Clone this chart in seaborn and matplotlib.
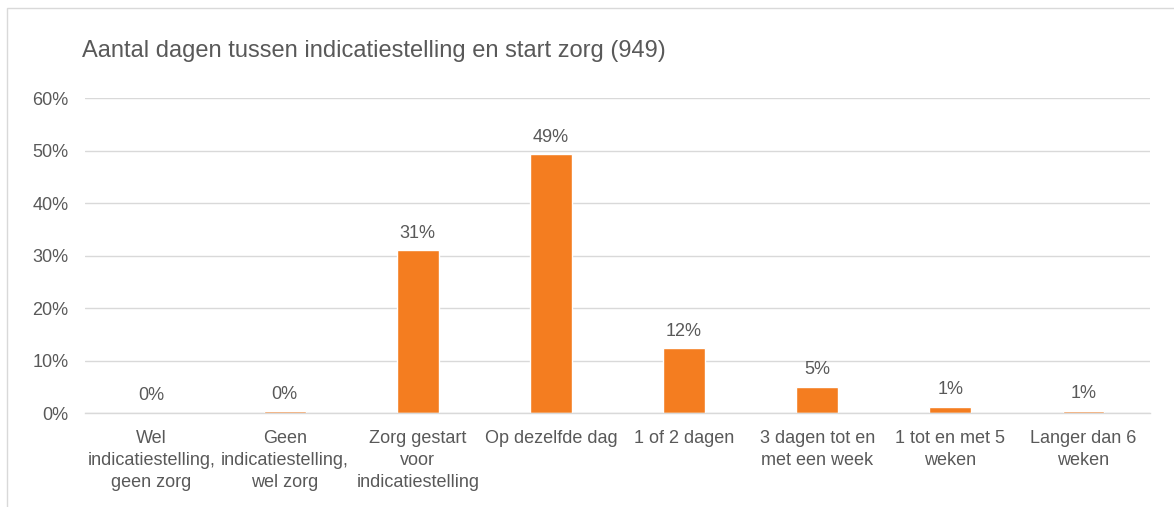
import matplotlib.pyplot as plt
import matplotlib.patches as mpatches
import seaborn as sns
import pandas as pd

# Data
categories = ['Wel\nindicatiestelling,\ngeen zorg',
              'Geen\nindicatiestelling,\nwel zorg',
              'Zorg gestart\nvoor\nindicatiestelling',
              'Op dezelfde dag',
              '1 of 2 dagen',
              '3 dagen tot en\nmet een week',
              '1 tot en met 5\nweken',
              'Langer dan 6\nweken']
shares = [0.0, 0.3, 31.0, 49.3, 12.3, 5.0, 1.2, 0.4]
labels = ['0%', '0%', '31%', '49%', '12%', '5%', '1%', '1%']
yticks = [0, 10, 20, 30, 40, 50, 60]

BAR_COLOR = '#F47D20'
TEXT_COLOR = '#595959'
GRID_COLOR = '#D9D9D9'
FS = 13

sns.set_style('white')
plt.rcParams['font.family'] = ['Liberation Sans', 'DejaVu Sans']

df = pd.DataFrame({'cat': categories, 'share': shares})

fig = plt.figure(figsize=(11.74, 5.07), dpi=100)
ax = fig.add_axes([0.0724, 0.1854, 0.9072, 0.6213])

sns.barplot(data=df, x='cat', y='share', color=BAR_COLOR, width=0.315,
            saturation=1, ax=ax)

# Value labels above the bars
for i, (v, lab) in enumerate(zip(shares, labels)):
    ax.text(i, v + 1.65, lab, ha='center', va='bottom', fontsize=FS,
            color=TEXT_COLOR)

ax.set_ylim(0, 60)
ax.set_xlim(-0.5, len(categories) - 0.5)
ax.set_yticks(yticks)
ax.set_yticklabels([f'{t}%' for t in yticks])
ax.yaxis.grid(True, color=GRID_COLOR, linewidth=1)
ax.set_axisbelow(True)
for s in ['top', 'right', 'left']:
    ax.spines[s].set_visible(False)
ax.spines['bottom'].set_color(GRID_COLOR)
ax.spines['bottom'].set_linewidth(1)
ax.tick_params(axis='both', length=0, labelsize=FS, colors=TEXT_COLOR)
ax.tick_params(axis='x', pad=12.5)
ax.tick_params(axis='y', pad=12)
for t in ax.get_xticklabels():
    t.set_linespacing(1.36)
ax.set_xlabel('')
ax.set_ylabel('')

fig.text(82 / 1174, 1 - 51 / 507, 'Aantal dagen tussen indicatiestelling en start zorg (949)',
         fontsize=17, color=TEXT_COLOR, ha='left', va='center')

# Chart frame
fig.patches.append(mpatches.Rectangle((7 / 1174, -0.01), 1.1, 1 - 8 / 507 + 0.01,
                                      transform=fig.transFigure, fill=False,
                                      edgecolor=GRID_COLOR, linewidth=1))

plt.savefig('out.png', dpi=100)
plt.close()
